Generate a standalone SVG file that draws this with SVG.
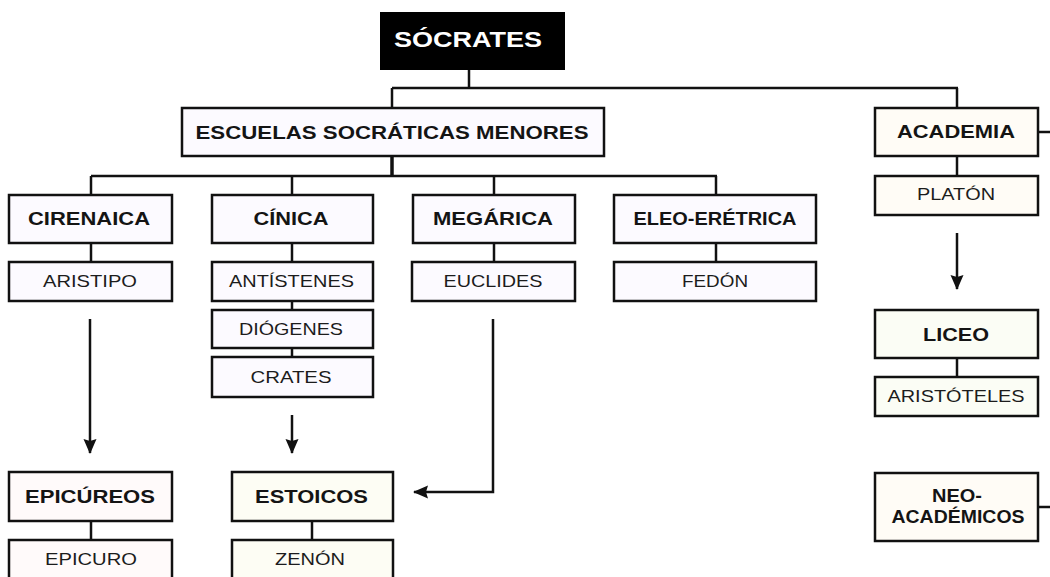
<svg xmlns="http://www.w3.org/2000/svg" width="1050" height="577" viewBox="0 0 1050 577">
<style>
.box{stroke:#111;stroke-width:2.5}
.lav{fill:#fcfaff}
.beige{fill:#fffcf6}
.green{fill:#fbfdf5}
.pink{fill:#fffafa}
.yel{fill:#fdfdf4}
.h{font-family:"Liberation Sans",Arial,sans-serif;font-weight:bold;font-size:18.5px;fill:#141414;text-anchor:middle}
.n{font-family:"Liberation Sans",Arial,sans-serif;font-size:16.5px;fill:#1c1c1c;text-anchor:middle}
.c line,.c polyline{stroke:#111;stroke-width:2.5;fill:none}
</style>
<defs>
<marker id="ah" markerUnits="userSpaceOnUse" markerWidth="15" markerHeight="14" viewBox="0 0 15 14" refX="14" refY="7" orient="auto">
<path d="M0,0.5 L15,7 L0,13.5 L2,7 Z" fill="#111"/>
</marker>
</defs>
<rect width="1050" height="577" fill="#fff"/>
<g class="c" id="connectors">
<line x1="469" y1="70" x2="469" y2="88"/>
<line x1="392" y1="88" x2="958" y2="88"/>
<line x1="392" y1="88" x2="392" y2="108"/>
<line x1="957" y1="88" x2="957" y2="108"/>
<line x1="392" y1="156" x2="392" y2="176" style="stroke-width:3.5"/>
<line x1="91" y1="176" x2="717" y2="176"/>
<line x1="91" y1="176" x2="91" y2="195"/>
<line x1="292" y1="176" x2="292" y2="195"/>
<line x1="494" y1="176" x2="494" y2="195"/>
<line x1="716" y1="176" x2="716" y2="195"/>
<line x1="91" y1="243" x2="91" y2="262"/>
<line x1="292" y1="243" x2="292" y2="262"/>
<line x1="494" y1="243" x2="494" y2="262"/>
<line x1="716" y1="243" x2="716" y2="262"/>
<line x1="957" y1="156" x2="957" y2="176"/>
<line x1="292" y1="301" x2="292" y2="310"/>
<line x1="292" y1="348" x2="292" y2="357"/>
<line x1="957" y1="358" x2="957" y2="377"/>
<line x1="91" y1="521" x2="91" y2="540"/>
<line x1="312" y1="521" x2="312" y2="540"/>
<line x1="1038" y1="132" x2="1050" y2="132"/>
<line x1="1038" y1="507" x2="1050" y2="507"/>
<line x1="90" y1="319" x2="90" y2="453" marker-end="url(#ah)"/>
<line x1="292" y1="415" x2="292" y2="453" marker-end="url(#ah)"/>
<polyline points="493,319 493,492 414,492" marker-end="url(#ah)"/>
<line x1="957" y1="233" x2="957" y2="289" marker-end="url(#ah)"/>
</g>
<g id="socrates"><rect x="380" y="12" width="185" height="58" fill="#000"/><text x="468" y="47" font-family="Liberation Sans,Arial,sans-serif" font-weight="bold" font-size="22" fill="#fff" text-anchor="middle" textLength="148" lengthAdjust="spacingAndGlyphs">SÓCRATES</text></g>
<g id="escuelas"><rect class="box lav" x="182" y="108" width="422" height="48"/><text class="h" x="392" y="139" textLength="393" lengthAdjust="spacingAndGlyphs">ESCUELAS SOCRÁTICAS MENORES</text></g>
<g id="academia"><rect class="box beige" x="875" y="108" width="163" height="48"/><text class="h" x="956" y="138" textLength="118" lengthAdjust="spacingAndGlyphs">ACADEMIA</text></g>
<g id="platon"><rect class="box beige" x="875" y="176" width="163" height="39"/><text class="n" x="956" y="200" textLength="78" lengthAdjust="spacingAndGlyphs">PLATÓN</text></g>
<g id="cirenaica"><rect class="box lav" x="9" y="195" width="163" height="48"/><text class="h" x="89" y="225" textLength="122" lengthAdjust="spacingAndGlyphs">CIRENAICA</text></g>
<g id="cinica"><rect class="box lav" x="212" y="195" width="161" height="48"/><text class="h" x="291" y="225" textLength="75" lengthAdjust="spacingAndGlyphs">CÍNICA</text></g>
<g id="megarica"><rect class="box lav" x="413" y="195" width="162" height="48"/><text class="h" x="493" y="225" textLength="120" lengthAdjust="spacingAndGlyphs">MEGÁRICA</text></g>
<g id="eleo"><rect class="box lav" x="614" y="195" width="202" height="48"/><text class="h" x="715" y="225" textLength="163" lengthAdjust="spacingAndGlyphs">ELEO-ERÉTRICA</text></g>
<g id="aristipo"><rect class="box lav" x="9" y="262" width="163" height="39"/><text class="n" x="90" y="287" textLength="94" lengthAdjust="spacingAndGlyphs">ARISTIPO</text></g>
<g id="antistenes"><rect class="box lav" x="212" y="262" width="161" height="39"/><text class="n" x="291.5" y="287" textLength="125" lengthAdjust="spacingAndGlyphs">ANTÍSTENES</text></g>
<g id="diogenes"><rect class="box lav" x="212" y="310" width="161" height="38"/><text class="n" x="291" y="335" textLength="104" lengthAdjust="spacingAndGlyphs">DIÓGENES</text></g>
<g id="crates"><rect class="box lav" x="212" y="357" width="161" height="40"/><text class="n" x="291" y="383" textLength="81" lengthAdjust="spacingAndGlyphs">CRATES</text></g>
<g id="euclides"><rect class="box lav" x="412" y="262" width="163" height="39"/><text class="n" x="493" y="287" textLength="99" lengthAdjust="spacingAndGlyphs">EUCLIDES</text></g>
<g id="fedon"><rect class="box lav" x="614" y="262" width="202" height="39"/><text class="n" x="715" y="287" textLength="66" lengthAdjust="spacingAndGlyphs">FEDÓN</text></g>
<g id="liceo"><rect class="box green" x="875" y="310" width="163" height="48"/><text class="h" x="956" y="341" textLength="66" lengthAdjust="spacingAndGlyphs">LICEO</text></g>
<g id="aristoteles"><rect class="box green" x="875" y="377" width="163" height="39"/><text class="n" x="956" y="402" textLength="137" lengthAdjust="spacingAndGlyphs">ARISTÓTELES</text></g>
<g id="neo"><rect class="box beige" x="875" y="473" width="163" height="68"/><text class="h" x="957" y="502" textLength="50" lengthAdjust="spacingAndGlyphs">NEO-</text><text class="h" x="958" y="523" textLength="133" lengthAdjust="spacingAndGlyphs">ACADÉMICOS</text></g>
<g id="epicureos"><rect class="box pink" x="9" y="472" width="163" height="49"/><text class="h" x="90" y="503" textLength="130" lengthAdjust="spacingAndGlyphs">EPICÚREOS</text></g>
<g id="epicuro"><rect class="box pink" x="9" y="540" width="163" height="45"/><text class="n" x="91" y="565" textLength="92" lengthAdjust="spacingAndGlyphs">EPICURO</text></g>
<g id="estoicos"><rect class="box yel" x="232" y="472" width="161" height="49"/><text class="h" x="311.5" y="503" textLength="113" lengthAdjust="spacingAndGlyphs">ESTOICOS</text></g>
<g id="zenon"><rect class="box yel" x="232" y="540" width="161" height="45"/><text class="n" x="310" y="565" textLength="70" lengthAdjust="spacingAndGlyphs">ZENÓN</text></g>
</svg>
